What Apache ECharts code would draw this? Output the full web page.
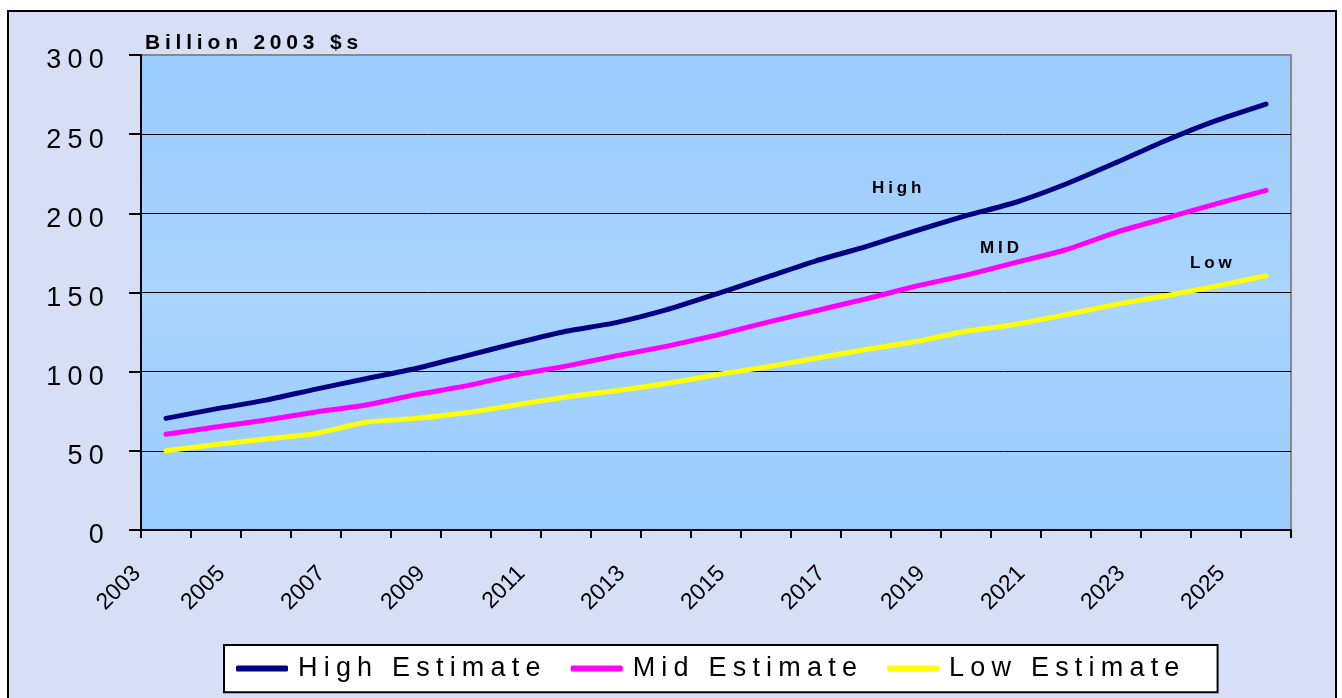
<!DOCTYPE html>
<html>
<head>
<meta charset="utf-8">
<script src="https://cdn.jsdelivr.net/npm/echarts@6/dist/echarts.min.js"></script>
<style>
html,body{margin:0;padding:0;background:#fff;}
#chart{width:1342px;height:698px;}
</style>
</head>
<body>
<div id="chart"></div>
<script>
// ---- data ----
var years = ['2003','2004','2005','2006','2007','2008','2009','2010','2011','2012','2013','2014','2015','2016','2017','2018','2019','2020','2021','2022','2023','2024','2025'];
var highEstimate = [70.5, 76.5, 82, 89, 95.5, 102, 110, 118, 125.5, 131, 139, 149, 159.5, 170, 179, 189, 198.5, 207, 218.5, 232, 246, 258.5, 269];
var midEstimate  = [60.5, 65, 69.5, 74.5, 79, 85.5, 91, 98, 103.5, 110, 116, 123, 131, 138.5, 146, 154, 161, 169, 177, 188, 197, 206, 214.5];
var lowEstimate  = [50, 54, 57.5, 61, 68, 70.5, 74, 79, 84, 88, 92.5, 98, 103, 108.5, 114, 119, 125.5, 130, 136, 142.5, 148, 154, 160.5];
var yTicks = [0, 50, 100, 150, 200, 250, 300];
var seriesNames = ['High Estimate', 'Mid Estimate', 'Low Estimate'];
var unitTitle = 'Billion 2003 $s';
var annotations = ['High', 'MID', 'Low'];

// letter spacing for the spaced (Excel-like) texts
function lsFor(font){
  if (!font || font.indexOf('Liberation') < 0) return '0px';
  var m = font.match(/(\d+(?:\.\d+)?)px/);
  var size = m ? parseFloat(m[1]) : 12;
  return (size * 0.23).toFixed(1) + 'px';
}
['fillText','strokeText','measureText'].forEach(function(fn){
  var orig = CanvasRenderingContext2D.prototype[fn];
  CanvasRenderingContext2D.prototype[fn] = function(){
    if (!('letterSpacing' in this)) return orig.apply(this, arguments);
    var prev = this.letterSpacing;
    this.letterSpacing = lsFor(this.font);
    var r = orig.apply(this, arguments);
    this.letterSpacing = prev;
    return r;
  };
});

var SP = 'Liberation Sans';
var chart = echarts.init(document.getElementById('chart'), null, {renderer:'canvas'});
var colors = ['#000080', '#ff00ff', '#ffff00'];
var data = [highEstimate, midEstimate, lowEstimate];

var option = {
  backgroundColor: '#ffffff',
  animation: false,
  title: {
    text: unitTitle,
    left: 145, top: 30, padding: 0,
    textStyle: {fontFamily: SP, fontSize: 21, fontWeight: 'bold', color: '#000'}
  },
  graphic: [
    {type:'rect', z:-100, silent:true, shape:{x:8, y:11, width:1328, height:710},
     style:{fill:'#d6dff5', stroke:'#000', lineWidth:2}},
    {type:'text', z:10, x:872, y:188, style:{text:annotations[0], fontFamily:SP, fontSize:17, fontWeight:'bold', fill:'#000', verticalAlign:'middle'}},
    {type:'text', z:10, x:980, y:248, style:{text:annotations[1], fontFamily:SP, fontSize:17, fontWeight:'bold', fill:'#000', verticalAlign:'middle'}},
    {type:'text', z:10, x:1190, y:263, style:{text:annotations[2], fontFamily:SP, fontSize:17, fontWeight:'bold', fill:'#000', verticalAlign:'middle'}}
  ],
  legend: {
    left: 224, top: 645,
    data: seriesNames,
    icon: 'roundRect',
    itemWidth: 52, itemHeight: 6,
    itemGap: 24,
    padding: [7, 32, 7, 12],
    backgroundColor: '#ffffff',
    borderColor: '#000', borderWidth: 2,
    textStyle: {fontFamily: SP, fontSize: 27, color: '#000', padding:[0,0,0,5]}
  },
  grid: {
    left: 141, right: 51, top: 55, bottom: 168,
    show: true,
    borderWidth: 2,
    borderColor: '#888',
    backgroundColor: new echarts.graphic.LinearGradient(0,0,0,1,[
      {offset:0, color:'#99cbfd'},
      {offset:0.5, color:'#a9d5ff'},
      {offset:1, color:'#99cbfd'}
    ])
  },
  xAxis: {
    type: 'category',
    data: years,
    boundaryGap: true,
    axisLine: {show:true, onZero:false, lineStyle:{color:'#000', width:2}},
    axisTick: {show:true, interval:0, length:8, lineStyle:{color:'#000', width:2}},
    axisLabel: {
      interval:1, rotate:45, margin:4, color:'#000', fontFamily:'Arial', fontSize:23,
      formatter: function(v, i){ return (i === 0 ? '{f|' : '{n|') + v + '}'; },
      rich: {
        f: {fontFamily:'Arial', fontSize:23, color:'#000', padding:[10,46,0,0]},
        n: {fontFamily:'Arial', fontSize:23, color:'#000', padding:[0,57,12,0]}
      }
    },
    splitLine: {show:false}
  },
  yAxis: {
    type: 'value',
    min: yTicks[0], max: yTicks[yTicks.length-1], interval: 50,
    axisLine: {show:true, lineStyle:{color:'#000', width:2}},
    axisTick: {show:true, length:12, lineStyle:{color:'#000', width:2}},
    axisLabel: {
      margin:31, color:'#000', fontFamily:SP, fontSize:27,
      formatter: '{y|{value}}',
      rich: { y: {fontFamily:SP, fontSize:27, color:'#000', padding:[12,0,0,0]} }
    },
    splitLine: {show:true, lineStyle:{color:['#000','#000','#000','#000','#000','#000','#888'], width:1}}
  },
  series: seriesNames.map(function(n, i){
    return {
      name: n, type: 'line', data: data[i],
      smooth: 0.2, showSymbol: false, symbol: 'none',
      color: colors[i],
      lineStyle: {color: colors[i], width: 5, cap: 'round', join: 'round'},
      z: 5 - i
    };
  })
};
chart.setOption(option);
</script>
</body>
</html>
